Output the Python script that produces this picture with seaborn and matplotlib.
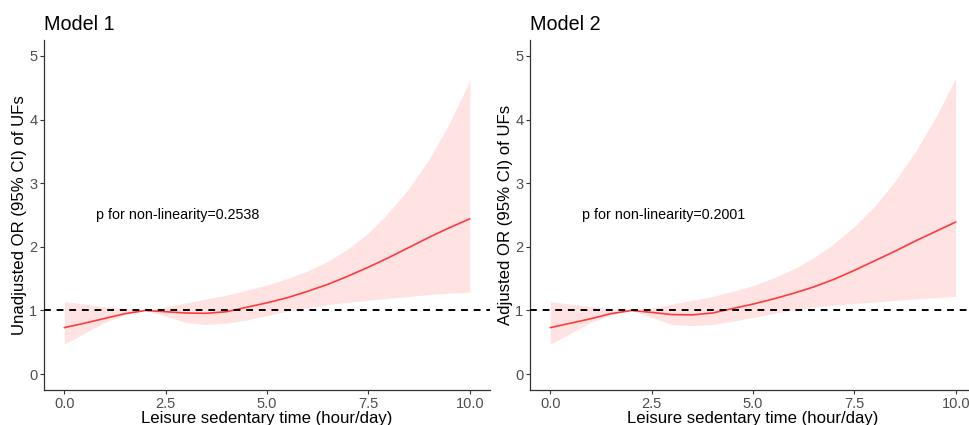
import numpy as np
import pandas as pd
import matplotlib
matplotlib.use("Agg")
import matplotlib.pyplot as plt
import seaborn as sns

# ---- data ----
x_vals = [0.0, 0.5, 1.0, 1.5, 2.0, 2.5, 3.0, 3.5, 4.0, 4.5, 5.0,
          5.5, 6.0, 6.5, 7.0, 7.5, 8.0, 8.5, 9.0, 9.5, 10.0]

m1_or = [0.73, 0.80, 0.875, 0.95, 1.00, 0.98, 0.96, 0.955, 0.98, 1.05, 1.12,
         1.20, 1.30, 1.41, 1.54, 1.68, 1.83, 1.99, 2.15, 2.30, 2.44]
m1_hi = [1.14, 1.10, 1.06, 1.03, 1.00, 1.05, 1.12, 1.18, 1.24, 1.32, 1.40,
         1.50, 1.62, 1.77, 1.97, 2.22, 2.54, 2.92, 3.38, 3.94, 4.61]
m1_lo = [0.47, 0.64, 0.81, 0.93, 1.00, 0.91, 0.81, 0.78, 0.80, 0.85, 0.92,
         0.99, 1.04, 1.09, 1.13, 1.16, 1.19, 1.22, 1.25, 1.27, 1.29]

m2_or = [0.73, 0.80, 0.87, 0.95, 1.00, 0.97, 0.935, 0.93, 0.96, 1.03, 1.10,
         1.18, 1.27, 1.37, 1.49, 1.63, 1.78, 1.93, 2.09, 2.24, 2.39]
m2_hi = [1.14, 1.10, 1.06, 1.03, 1.00, 1.04, 1.10, 1.16, 1.22, 1.30, 1.39,
         1.51, 1.65, 1.83, 2.05, 2.32, 2.64, 3.03, 3.49, 4.03, 4.65]
m2_lo = [0.47, 0.64, 0.81, 0.93, 1.00, 0.89, 0.78, 0.76, 0.78, 0.83, 0.89,
         0.95, 1.01, 1.05, 1.08, 1.11, 1.13, 1.16, 1.18, 1.20, 1.22]

titles = ["Model 1", "Model 2"]
ylabels = ["Unadjusted OR (95% CI) of UFs", "Adjusted OR (95% CI) of UFs"]
xlabel = "Leisure sedentary time (hour/day)"
p_texts = ["p for non-linearity=0.2538", "p for non-linearity=0.2001"]
x_ticks = [0.0, 2.5, 5.0, 7.5, 10.0]
x_ticklabels = ["0.0", "2.5", "5.0", "7.5", "10.0"]
y_ticks = [0, 1, 2, 3, 4, 5]

sns.set_style("ticks")
plt.rcParams['font.family'] = ['Liberation Sans', 'DejaVu Sans']

fig = plt.figure(figsize=(9.7, 4.25), dpi=100)
W, H = 970, 425
axes = [fig.add_axes([44 / W, 35 / H, 446 / W, 350 / H]),
        fig.add_axes([530 / W, 35 / H, 446 / W, 350 / H])]

models = [(m1_or, m1_lo, m1_hi), (m2_or, m2_lo, m2_hi)]

for i, ax in enumerate(axes):
    orv, lo, hi = models[i]
    df = pd.DataFrame({"x": x_vals, "or": orv, "lo": lo, "hi": hi})
    ax.fill_between(df["x"], df["lo"], df["hi"], color="#ff0000", alpha=0.11,
                    linewidth=0, zorder=1)
    sns.lineplot(data=df, x="x", y="or", ax=ax, color="#ff3a3a", linewidth=1.2,
                 zorder=3)
    ax.axhline(1, color="black", linewidth=1.4, linestyle=(0, (3.5, 3)), zorder=4)
    ax.set_xlim(-0.5, 10.5)
    ax.set_ylim(-0.25, 5.25)
    ax.set_xticks(x_ticks)
    ax.set_xticklabels(x_ticklabels)
    ax.set_yticks(y_ticks)
    ax.tick_params(axis="both", labelsize=10.5, labelcolor="#4d4d4d",
                   color="#333333", length=3, width=0.8, pad=1.8)
    for s in ["top", "right"]:
        ax.spines[s].set_visible(False)
    for s in ["left", "bottom"]:
        ax.spines[s].set_color("#333333")
        ax.spines[s].set_linewidth(0.9)
    ax.set_xlabel(xlabel, fontsize=12.1, color="black", labelpad=0.5)
    ax.set_ylabel(ylabels[i], fontsize=12.1, color="black", labelpad=1.5)
    ax.set_title(titles[i], loc="left", fontsize=14.2, pad=7, color="black")
    ax.text(2.8, 2.5, p_texts[i], fontsize=10.3, ha="center", va="center",
            color="black")

fig.savefig("out.png", dpi=100)
